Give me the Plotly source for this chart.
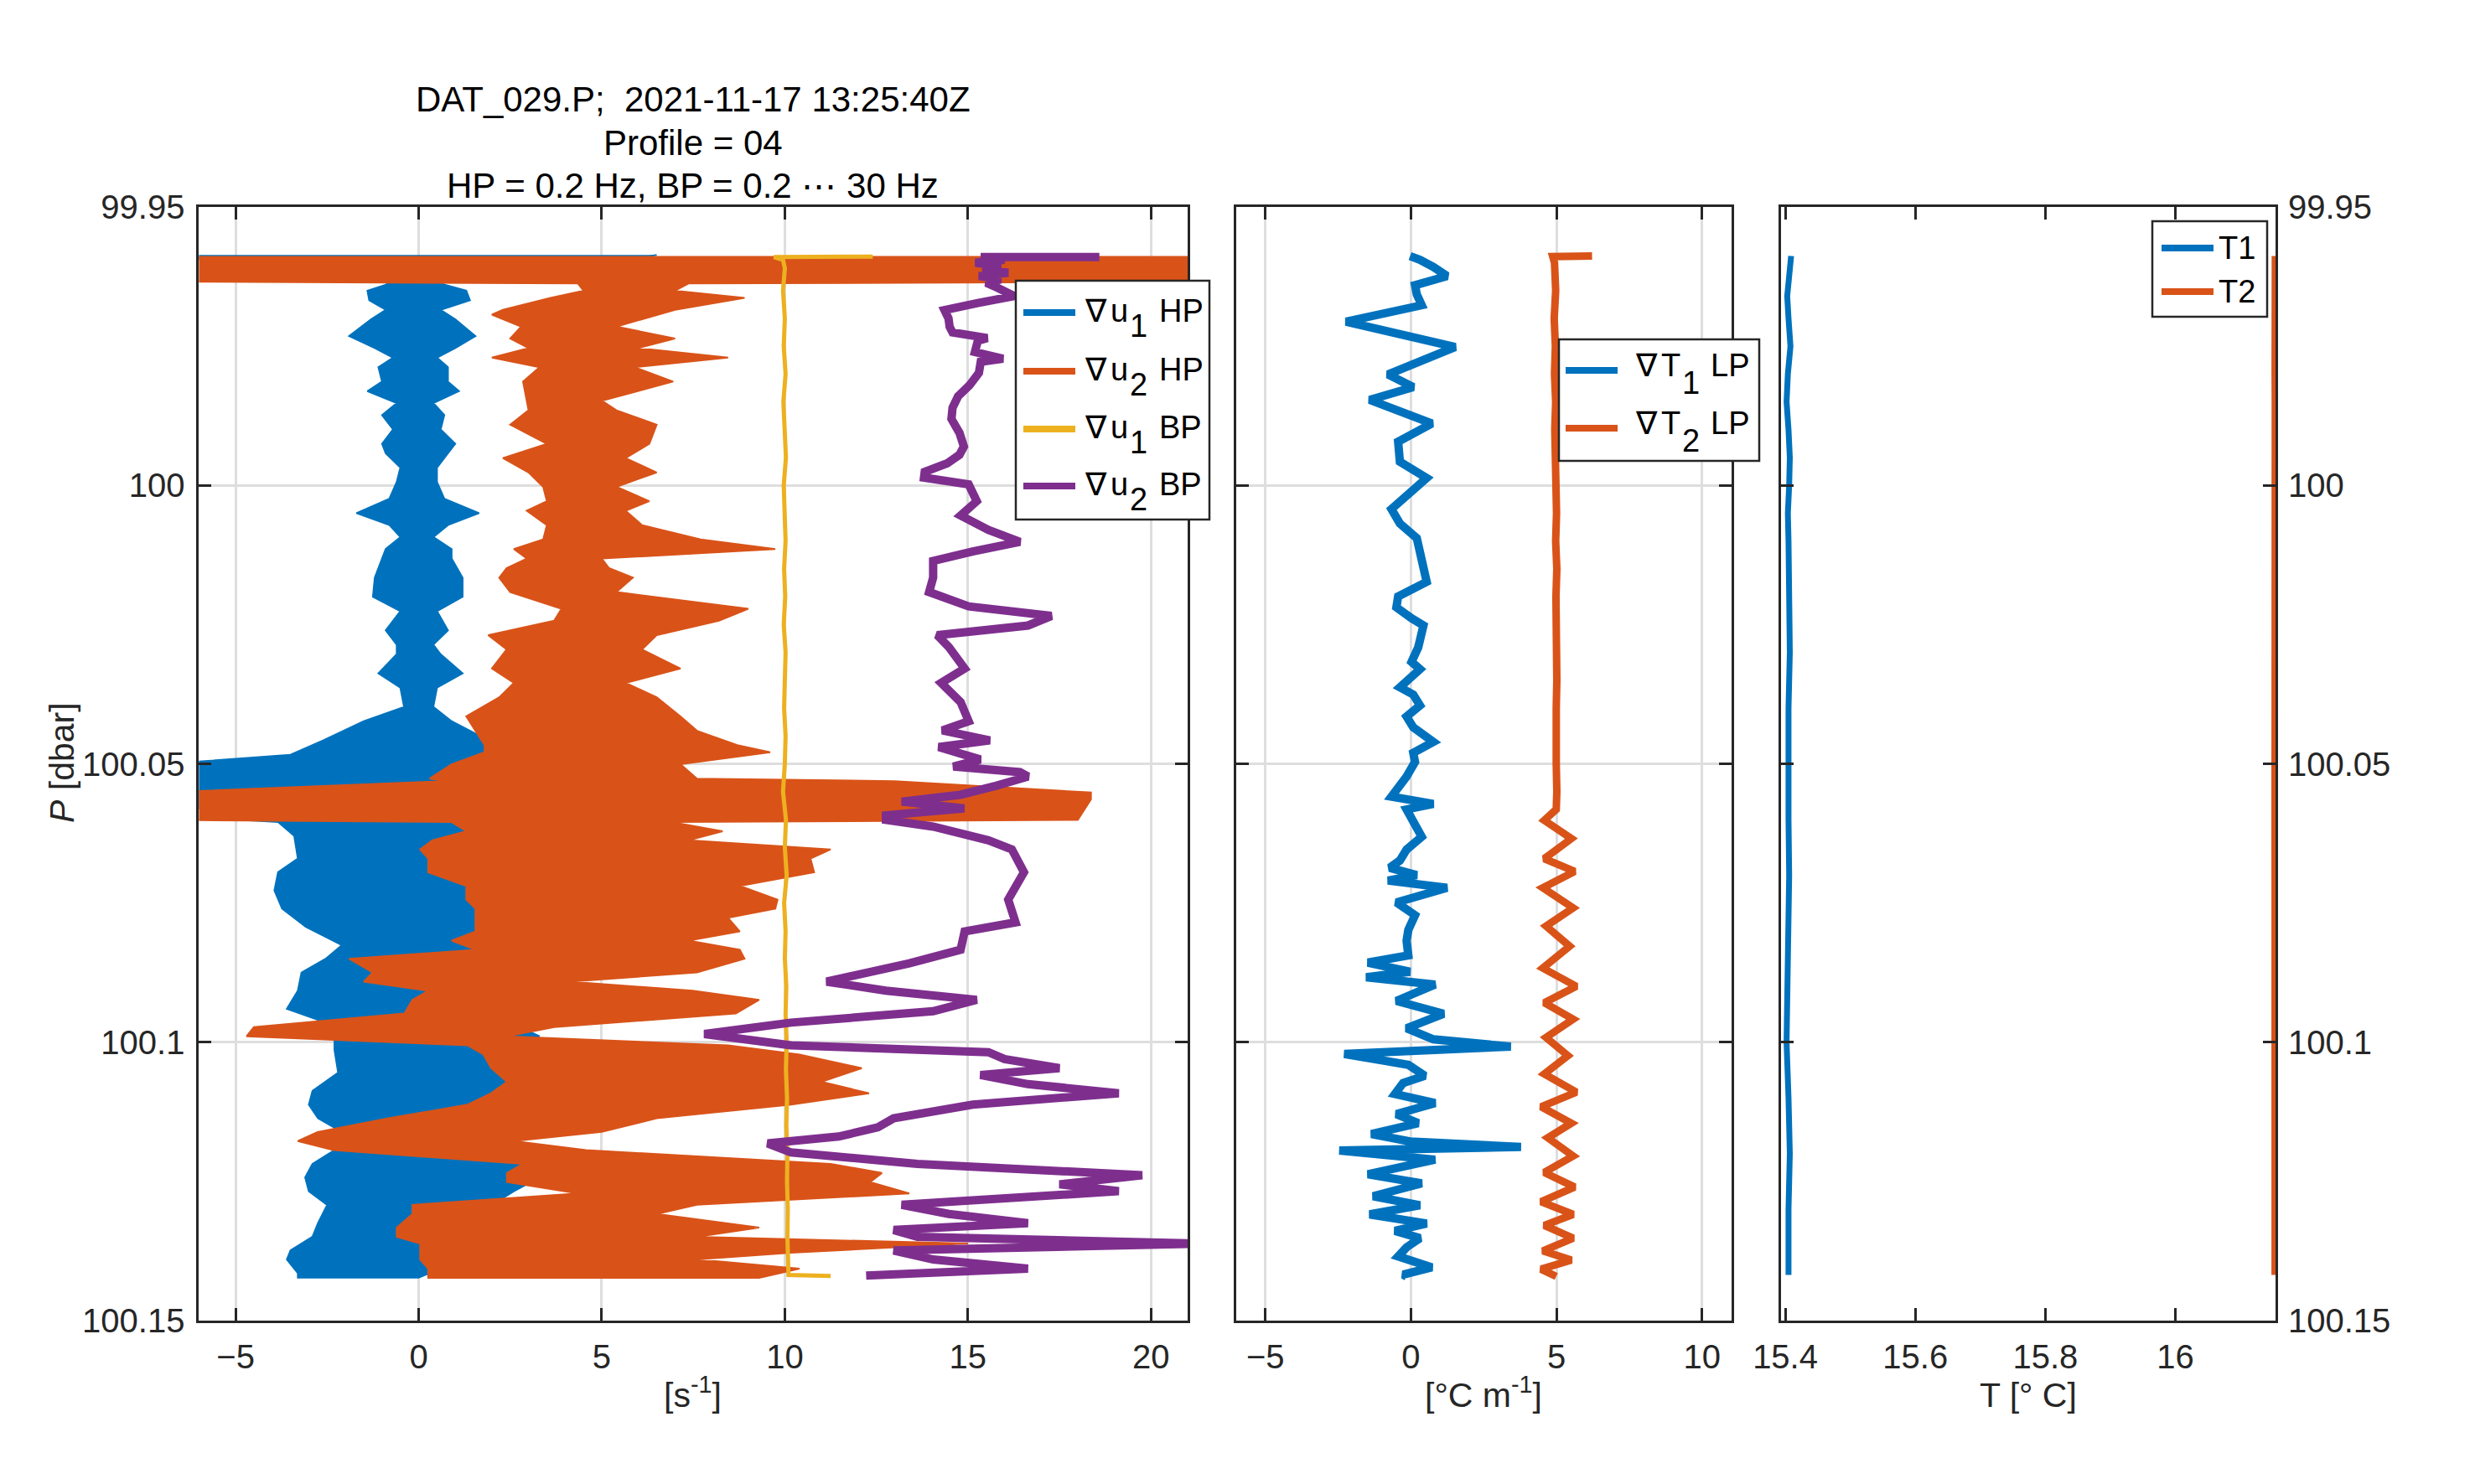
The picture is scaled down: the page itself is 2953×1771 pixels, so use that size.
import plotly.graph_objects as go

# ---------------- panel 1 : shear ----------------
# high-pass shear signals, drawn as left/right envelope of the dense trace
p_u1hp = [99.9586, 99.9592, 99.9600, 99.9634, 99.96375, 99.96503, 99.96675, 99.96847, 99.97019, 99.97320,
          99.97534, 99.97706, 99.97878, 99.98136, 99.98308, 99.98522, 99.98737, 99.98995, 99.99253, 99.99424,
          99.99682, 99.99940, 100.00241, 100.00498, 100.00713, 100.00928, 100.01143, 100.01314, 100.01658, 100.02002,
          100.02259, 100.02603, 100.02861, 100.03033, 100.03376, 100.03634, 100.03978, 100.04235, 100.04579, 100.04837,
          100.05009, 100.05266, 100.0540, 100.0560, 100.0600, 100.06047, 100.06293, 100.06702, 100.06948, 100.07275,
          100.07602, 100.07930, 100.08257, 100.08502, 100.08748, 100.09075, 100.09403, 100.09648, 100.09894, 100.10139,
          100.10548, 100.10876, 100.11121, 100.11367, 100.11612, 100.11939, 100.12185, 100.12430, 100.12676, 100.12921,
          100.13249, 100.13494, 100.13740, 100.13903, 100.14149, 100.1423]
u1hp_lo = [-7, -7, -2, -1.0, -0.8, -1.4, -1.35, -0.9, -1.3, -1.9,
           -1.2, -0.7, -1.1, -1.0, -1.4, -0.6, -1.0, -0.7, -1.0, -0.9,
           -0.5, -0.6, -0.8, -1.7, -0.8, -0.5, -0.9, -1.0, -1.2, -1.25,
           -0.5, -0.9, -0.6, -0.6, -1.1, -0.5, -0.4, -1.5, -2.6, -3.5,
           -7, -7, -7, -7, -5, -3.84, -3.4, -3.3, -3.84, -3.94,
           -3.73, -3.08, -2.1, -2.54, -3.2, -3.3, -3.6, -2.54, -2.3, -2.3,
           -2.2, -2.9, -3.0, -2.75, -2.1, -2.3, -2.9, -3.1, -3.0, -2.5,
           -2.75, -2.9, -3.5, -3.6, -3.3, -3.3]
u1hp_hi = [6.5, 6.0, 2, 0.8, 0.6, 1.3, 1.4, 0.6, 1.0, 1.55,
           1.0, 0.5, 0.8, 0.8, 1.1, 0.4, 0.7, 0.6, 1.0, 0.8,
           0.5, 0.5, 0.7, 1.65, 0.8, 0.4, 0.9, 0.9, 1.2, 1.2,
           0.5, 0.8, 0.4, 0.6, 1.2, 0.5, 0.4, 0.9, 1.9, 2.0,
           2.5, 3.0, 2.0, 2.0, 2.0, 1.8, 2.0, 2.0, 2.2, 2.0,
           2.2, 2.5, 2.0, 1.8, 1.5, 1.8, 2.0, 2.5, 3.3, 2.0,
           2.6, 2.95, 2.8, 2.0, 1.5, 2.0, 3.3, 3.3, 2.6, 2.0,
           2.5, 3.3, 2.0, 1.0, 0.3, 0.0]

p_u2hp = [99.9588, 99.9598, 99.9634, 99.96375, 99.96503, 99.96632, 99.96847, 99.96933, 99.97148, 99.97363,
          99.97534, 99.97706, 99.97878, 99.98136, 99.98479, 99.98651, 99.98909, 99.99253, 99.99510, 99.99768,
          100.00026, 100.00284, 100.00455, 100.00713, 100.00971, 100.01143, 100.01314, 100.01486, 100.01658, 100.01916,
          100.02216, 100.02431, 100.02689, 100.02947, 100.03290, 100.03548, 100.03806, 100.04149, 100.04407, 100.04665,
          100.04794, 100.05009, 100.05266, 100.05311, 100.05516, 100.05638, 100.06007, 100.06047, 100.06211, 100.06375,
          100.06538, 100.06702, 100.06948, 100.07193, 100.07439, 100.07602, 100.07766, 100.08011, 100.08175, 100.08339,
          100.08502, 100.08748, 100.08912, 100.09075, 100.09239, 100.09484, 100.09730, 100.09894, 100.10057, 100.10221,
          100.10466, 100.10712, 100.10917, 100.11121, 100.11367, 100.11612, 100.11776, 100.11939, 100.12185, 100.12349,
          100.12512, 100.12717, 100.12921, 100.13085, 100.13331, 100.13494, 100.13617, 100.13781, 100.13903, 100.14067,
          100.14231]
u2hp_lo = [-7, -7, -7, 4.35, 4.5, 3.6, 2.3, 2.0, 2.8, 2.5,
           3.0, 2.0, 3.3, 2.85, 2.95, 3.0, 2.5, 3.5, 2.3, 3.0,
           3.4, 3.5, 2.95, 3.5, 3.4, 2.6, 2.95, 2.4, 2.2, 2.5,
           3.9, 3.7, 1.9, 2.4, 2.0, 2.6, 2.2, 1.3, 1.55, 1.8,
           1.8, 0.9, 0.3, 0.7, -7, -7, -7, 0.9, 1.3, 0.37,
           0.04, 0.26, 0.26, 1.3, 1.3, 1.55, 1.55, 1.55, 0.9, 1.55,
           -1.9, -1.25, -1.5, 0.26, -0.17, -0.39, -4.5, -4.7, 1.34, 1.77,
           1.98, 2.41, 1.98, 1.34, -0.82, -2.76, -3.3, -2.33, 2.85, 2.41,
           2.41, 4.35, -0.17, -0.17, -0.6, -0.6, 0.04, 0.04, 0.04, 0.26,
           0.26]
u2hp_hi = [22, 22, 22, 7.37, 7.0, 8.9, 7.0, 6.5, 5.4, 7.0,
           6.0, 8.45, 5.9, 6.95, 5.0, 5.4, 6.5, 6.3, 5.65, 6.5,
           5.4, 6.3, 5.65, 6.1, 7.7, 9.74, 5.0, 5.2, 5.85, 5.4,
           9.0, 8.2, 6.5, 6.1, 7.15, 5.65, 6.5, 7.15, 7.6, 8.7,
           9.6, 7.15, 7.6, 13.0, 18.36, 18.36, 18.0, 6.9, 8.3, 7.37,
           11.25, 10.7, 10.8, 8.77, 9.8, 9.74, 8.45, 8.77, 7.37, 8.77,
           8.9, 7.6, 4.13, 7.48, 9.3, 8.66, 3.7, 2.4, 8.45, 10.4,
           12.1, 11.0, 12.3, 10.17, 6.5, 5.0, 2.6, 4.57, 11.25, 12.65,
           12.33, 13.4, 7.6, 6.5, 9.3, 7.6, 15.0, 10.17, 7.6, 10.4,
           9.3]

# band-pass shear signals (offset by 10 and 15 in the original plot)
p_u1bp = [99.9589, 99.9590, 99.9595, 99.9610, 99.965,
          99.970, 99.975, 99.980, 99.985, 99.990, 99.995, 100.000, 100.005, 100.010, 100.015,
          100.020, 100.025, 100.030, 100.035, 100.040, 100.045, 100.050, 100.055, 100.060, 100.065,
          100.070, 100.075, 100.080, 100.085, 100.090, 100.095, 100.100, 100.105, 100.110, 100.115,
          100.120, 100.125, 100.130, 100.135, 100.140, 100.1418, 100.1420]
u1bp = [12.4, 9.7, 9.95, 10.0, 9.95,
        10.0, 9.97, 10.02, 9.96, 10.0, 10.03, 9.97, 10.0, 10.02, 9.98,
        10.01, 9.97, 10.02, 10.0, 9.98, 10.02, 10.0, 9.95, 10.03, 10.0,
        10.05, 9.98, 10.02, 10.0, 10.04, 10.02, 10.05, 10.03, 10.06, 10.04,
        10.07, 10.06, 10.08, 10.07, 10.1, 10.1, 11.25]

p_u2bp = [99.95898, 99.95900, 99.9595, 99.9600, 99.9606, 99.9612, 99.9618, 99.9624, 99.9630, 99.9636,
          99.96449, 99.9660, 99.96726, 99.96851, 99.97001, 99.97152, 99.97253, 99.97353, 99.97403, 99.97604,
          99.97724, 99.97780, 99.97980, 99.98205, 99.98401, 99.98607, 99.98807, 99.99058, 99.99304, 99.99450,
          99.99605, 99.99756, 99.99861, 99.99983, 100.00284, 100.00541, 100.00799, 100.01014, 100.01186, 100.01357,
          100.01658, 100.01916, 100.02174, 100.02345, 100.02517, 100.02689, 100.02904, 100.03290, 100.03548, 100.03892,
          100.04235, 100.04400, 100.04579, 100.04700, 100.04923, 100.05050, 100.05150, 100.05229, 100.05393, 100.05556,
          100.05679, 100.05802, 100.05925, 100.06007, 100.06129, 100.06375, 100.06538, 100.06948, 100.07439, 100.07848,
          100.08011, 100.08339, 100.08584, 100.08748, 100.08912, 100.09075, 100.09239, 100.09444, 100.09648, 100.09853,
          100.10057, 100.10180, 100.10303, 100.10466, 100.10589, 100.10753, 100.10917, 100.11121, 100.11367, 100.11530,
          100.11694, 100.11817, 100.11980, 100.12185, 100.12390, 100.12553, 100.12676, 100.12921, 100.13085, 100.13249,
          100.13372, 100.13494, 100.13617, 100.13740, 100.13903, 100.14067, 100.14190]
u2bp = [18.59, 15.35, 16.0, 15.2, 15.9, 15.4, 16.1, 15.3, 15.9, 15.5,
        15.80, 16.26, 15.27, 14.36, 14.47, 14.50, 14.58, 15.53, 15.27, 15.19,
        15.96, 15.35, 15.30, 15.04, 14.73, 14.58, 14.55, 14.77, 14.89, 14.77,
        14.43, 13.82, 13.80, 15.02, 15.24, 14.80, 15.56, 16.42, 15.13, 14.05,
        14.05, 13.94, 15.02, 17.28, 16.64, 14.16, 14.48, 14.91, 14.27, 14.80,
        15.02, 14.3, 15.6, 14.2, 15.34, 14.6, 16.42, 16.64, 15.78, 14.80,
        13.19, 14.90, 12.76, 12.76, 14.05, 15.56, 16.20, 16.53, 16.10, 16.30,
        14.91, 14.80, 13.40, 12.33, 11.14, 12.76, 15.24, 14.05, 10.17, 7.80,
        10.17, 15.56, 16.00, 17.50, 15.34, 16.64, 19.12, 15.13, 12.97, 12.54,
        11.47, 9.53, 10.17, 13.62, 19.76, 17.50, 19.12, 13.19, 14.48, 16.64,
        12.97, 13.62, 21.3, 12.97, 14.05, 16.64, 12.22]

# ---------------- panel 2 : temperature gradient ----------------
p_t1lp = [99.95882, 99.95948, 99.96078, 99.96242, 99.96405, 99.96569, 99.96765, 99.97059, 99.97516, 99.98007,
          99.98235, 99.98464, 99.98889, 99.99216, 99.99575, 99.99869, 100.00425, 100.00686, 100.00948, 100.01307,
          100.01732, 100.01993, 100.02190, 100.02386, 100.02516, 100.02908, 100.03170, 100.03301, 100.03627, 100.03758,
          100.03954, 100.04150, 100.04346, 100.04608, 100.04804, 100.04967, 100.05229, 100.05590, 100.05721, 100.05819,
          100.06147, 100.06311, 100.06540, 100.06737, 100.06868, 100.06999, 100.07097, 100.07228, 100.07490, 100.07720,
          100.07982, 100.08178, 100.08440, 100.08571, 100.08735, 100.08834, 100.08965, 100.09259, 100.09489, 100.09751,
          100.09948, 100.10079, 100.10210, 100.10406, 100.10603, 100.10734, 100.10931, 100.11094, 100.11291, 100.11455,
          100.11651, 100.11782, 100.11881, 100.11946, 100.12110, 100.12372, 100.12536, 100.12765, 100.12929, 100.13093,
          100.13257, 100.13388, 100.13519, 100.13683, 100.13847, 100.14043, 100.14174, 100.14207]
t1lp = [-0.03, 0.31, 0.77, 1.24, 0.14, 0.2, 0.37, -2.23, 1.52, -0.79,
        0.08, -1.42, 0.72, -0.44, -0.38, 0.54, -0.67, -0.38, 0.2, 0.37,
        0.54, -0.44, -0.5, 0.02, 0.43, 0.25, 0.02, 0.31, -0.38, 0.08,
        0.31, -0.15, 0.08, 0.77, 0.08, 0.14, -0.15, -0.67, 0.77, -0.15,
        0.2, 0.37, -0.15, -0.38, -0.73, 0.2, -0.79, 1.24, -0.5, 0.14,
        -0.09, -0.15, -0.09, -1.48, -0.03, -1.54, 0.83, -0.5, 1.12, -0.15,
        0.77, 3.43, -2.29, -0.09, 0.48, -0.27, -0.55, 0.83, -0.5, 0.25,
        -1.36, -0.03, 3.78, -2.46, 0.83, -1.48, 0.37, -1.3, 0.31, -1.42,
        0.54, -0.55, 0.31, -0.15, -0.44, 0.72, -0.27, -0.15]

p_t2lp = [99.95882, 99.95890, 99.9600, 99.965, 99.970, 99.975, 99.980, 99.985, 99.990, 99.995,
          100.000, 100.005, 100.010, 100.015, 100.020, 100.025, 100.030, 100.035, 100.040, 100.045,
          100.050, 100.055, 100.05819, 100.06016, 100.06343, 100.06704, 100.06933, 100.07228, 100.07588, 100.07916,
          100.08277, 100.08670, 100.08997, 100.09292, 100.09587, 100.09915, 100.10242, 100.10570, 100.10898, 100.11160,
          100.11455, 100.11717, 100.12045, 100.12339, 100.12602, 100.12864, 100.13093, 100.13290, 100.13519, 100.13748,
          100.13912, 100.14076, 100.14207]
t2lp = [6.22, 4.87, 4.93, 4.97, 4.92, 4.96, 4.93, 4.97, 4.94, 4.98,
        4.96, 5.0, 4.97, 5.01, 4.98, 5.0, 4.97, 5.01, 4.99, 5.02,
        4.99, 5.01, 4.99, 4.58, 5.51, 4.58, 5.62, 4.53, 5.57, 4.64,
        5.45, 4.53, 5.68, 4.58, 5.57, 4.64, 5.39, 4.58, 5.68, 4.47,
        5.51, 4.70, 5.57, 4.58, 5.62, 4.47, 5.57, 4.58, 5.57, 4.53,
        5.51, 4.47, 4.99]

# ---------------- panel 3 : temperature ----------------
p_temp = [99.9588, 99.962, 99.966, 99.970, 99.975, 99.980, 99.985, 99.990, 99.995, 100.0,
          100.005, 100.01, 100.02, 100.03, 100.04, 100.05, 100.06, 100.07, 100.08, 100.09,
          100.1, 100.11, 100.12, 100.13, 100.14, 100.1418]
T1 = [15.409, 15.407, 15.403, 15.405, 15.408, 15.404, 15.402, 15.405, 15.407, 15.406,
      15.404, 15.405, 15.406, 15.407, 15.405, 15.404, 15.405, 15.406, 15.405, 15.404,
      15.402, 15.405, 15.407, 15.405, 15.406, 15.405]
T2 = [16.1525, 16.1522, 16.1520, 16.1523, 16.1521, 16.1522, 16.1524, 16.1522, 16.1521, 16.1523,
      16.1522, 16.1521, 16.1522, 16.1523, 16.1522, 16.1521, 16.1522, 16.1523, 16.1522, 16.1521,
      16.1522, 16.1523, 16.1522, 16.1521, 16.1522, 16.1522]

# ticks
x1_ticks = [-5, 0, 5, 10, 15, 20]
x2_ticks = [-5, 0, 5, 10]
x3_ticks = [15.4, 15.6, 15.8, 16]
x3_text = ['15.4', '15.6', '15.8', '16']
p_ticks = [99.95, 100, 100.05, 100.1, 100.15]
p_text = ['99.95', '100', '100.05', '100.1', '100.15']

BLUE = '#0072BD'
ORANGE = '#D95319'
YELLOW = '#EDB120'
PURPLE = '#7E2F8E'
AX = '#262626'
GRID = '#DEDEDE'
FONT = 'Liberation Sans, Arial, Helvetica, sans-serif'
SYM = 'DejaVu Sans'

W, H = 2953, 1771
OFF = 8  # the page body adds a small margin; pixel positions below are image pixels


def fx(px):
    return (px - OFF) / W


def fy(py):
    return 1 - (py - OFF) / H


fig = go.Figure()


def band(p, lo, hi, color, xa, ya):
    fig.add_trace(go.Scatter(
        x=lo + hi[::-1], y=p + p[::-1], mode='lines', fill='toself',
        fillcolor=color, line=dict(color=color, width=2),
        xaxis=xa, yaxis=ya, showlegend=False, hoverinfo='skip'))


def curve(x, p, color, width, xa, ya):
    fig.add_trace(go.Scatter(
        x=x, y=p, mode='lines', line=dict(color=color, width=width),
        xaxis=xa, yaxis=ya, showlegend=False, hoverinfo='skip'))


band(p_u1hp, u1hp_lo, u1hp_hi, BLUE, 'x', 'y')
band(p_u2hp, u2hp_lo, u2hp_hi, ORANGE, 'x', 'y')
curve(u1bp, p_u1bp, YELLOW, 5, 'x', 'y')
curve(u2bp, p_u2bp, PURPLE, 10, 'x', 'y')

curve(t1lp, p_t1lp, BLUE, 10, 'x2', 'y2')
curve(t2lp, p_t2lp, ORANGE, 9, 'x2', 'y2')

curve(T1, p_temp, BLUE, 7, 'x3', 'y3')
curve(T2, p_temp, ORANGE, 7, 'x3', 'y3')

ax = dict(showline=True, linecolor=AX, linewidth=3, mirror='ticks',
          ticks='inside', ticklen=15, tickwidth=3, tickcolor=AX,
          tickfont=dict(family=FONT, size=40, color=AX), zeroline=False,
          gridcolor=GRID, gridwidth=2.5, automargin=False)

ydom = [fy(1576), fy(247)]

fig.update_layout(
    width=W, height=H,
    margin=dict(l=0, r=0, t=0, b=0, pad=0, autoexpand=False),
    paper_bgcolor='white', plot_bgcolor='white',
    showlegend=False,
    xaxis=dict(ax, domain=[fx(237.4), fx(1417)], range=[-6, 21], anchor='y',
               tickvals=x1_ticks, showgrid=True, ticklabelstandoff=6),
    xaxis2=dict(ax, domain=[fx(1475), fx(2065.6)], range=[-6, 11], anchor='y2',
                tickvals=x2_ticks, showgrid=True, ticklabelstandoff=6),
    xaxis3=dict(ax, domain=[fx(2125.4), fx(2715)], range=[15.394, 16.154], anchor='y3',
                tickvals=x3_ticks, ticktext=x3_text, showgrid=False, ticklabelstandoff=6),
    yaxis=dict(ax, domain=ydom, range=[100.15, 99.95], anchor='x',
               tickvals=p_ticks, ticktext=p_text, showgrid=True, ticklabelstandoff=6),
    yaxis2=dict(ax, domain=ydom, range=[100.15, 99.95], anchor='x2',
                tickvals=p_ticks, showticklabels=False, showgrid=True),
    yaxis3=dict(ax, domain=ydom, range=[100.15, 99.95], anchor='x3', side='right',
                tickvals=p_ticks, ticktext=p_text, showgrid=False, ticklabelstandoff=4),
)

annotations = []


def text(x, y, s, size, color=AX, xanchor='center', angle=0, family=FONT):
    annotations.append(dict(x=fx(x), y=fy(y), xref='paper', yref='paper', text=s,
                            showarrow=False, xanchor=xanchor, yanchor='middle',
                            textangle=angle, font=dict(family=family, size=size, color=color)))


# title over the first panel
text(827, 118, 'DAT_029.P;\u00a0 2021-11-17 13:25:40Z', 42, '#000000')
text(827, 170, 'Profile = 04', 42, '#000000')
text(827, 221, 'HP = 0.2 Hz, BP = 0.2 \u22ef 30 Hz', 42, '#000000')

# axis labels
text(827, 1662, '[s<sup>-1</sup>]', 41)
text(1770, 1662, '[\u00b0C m<sup>-1</sup>]', 41)
text(2420, 1665, 'T [\u00b0 C]', 41)
text(74, 910, '<i>P</i> [dbar]', 41, angle=-90)

shapes = []


def legend(box, x_line, rows):
    shapes.append(dict(type='rect', xref='paper', yref='paper',
                       x0=fx(box[0]), x1=fx(box[1]), y0=fy(box[3]), y1=fy(box[2]),
                       fillcolor='white', line=dict(color=AX, width=2.5), layer='above'))
    for y, color, parts in rows:
        shapes.append(dict(type='line', xref='paper', yref='paper',
                           x0=fx(x_line[0]), x1=fx(x_line[1]), y0=fy(y), y1=fy(y),
                           line=dict(color=color, width=8), layer='above'))
        # label pieces: (left x, vertical offset, text, font); subscripts full size, lowered
        for x, dy, s, fam in parts:
            text(x, y + dy, s, 38, '#000000', xanchor='left', family=fam)


def shear_label(k, kind):
    return [(1292, -2, '\u2207', SYM), (1323, -2, 'u', FONT),
            (1346, 16, k, FONT), (1381, -2, kind, FONT)]


def grad_label(k):
    return [(1949, -6, '\u2207', SYM), (1980, -6, 'T', FONT),
            (2005, 15, k, FONT), (2039, -6, 'LP', FONT)]


legend((1212, 1443, 335, 620), (1221, 1283), [
    (373, BLUE, shear_label('1', 'HP')),
    (443, ORANGE, shear_label('2', 'HP')),
    (512, YELLOW, shear_label('1', 'BP')),
    (580, PURPLE, shear_label('2', 'BP')),
])
legend((1860, 2099, 405, 550), (1868, 1930), [
    (442, BLUE, grad_label('1')),
    (511, ORANGE, grad_label('2')),
])
legend((2568, 2705, 264, 378), (2579, 2641), [
    (296, BLUE, [(2645, 0, 'T1', FONT)]),
    (348, ORANGE, [(2645, 0, 'T2', FONT)]),
])

fig.update_layout(annotations=annotations, shapes=shapes)

fig.write_html("out.html")
